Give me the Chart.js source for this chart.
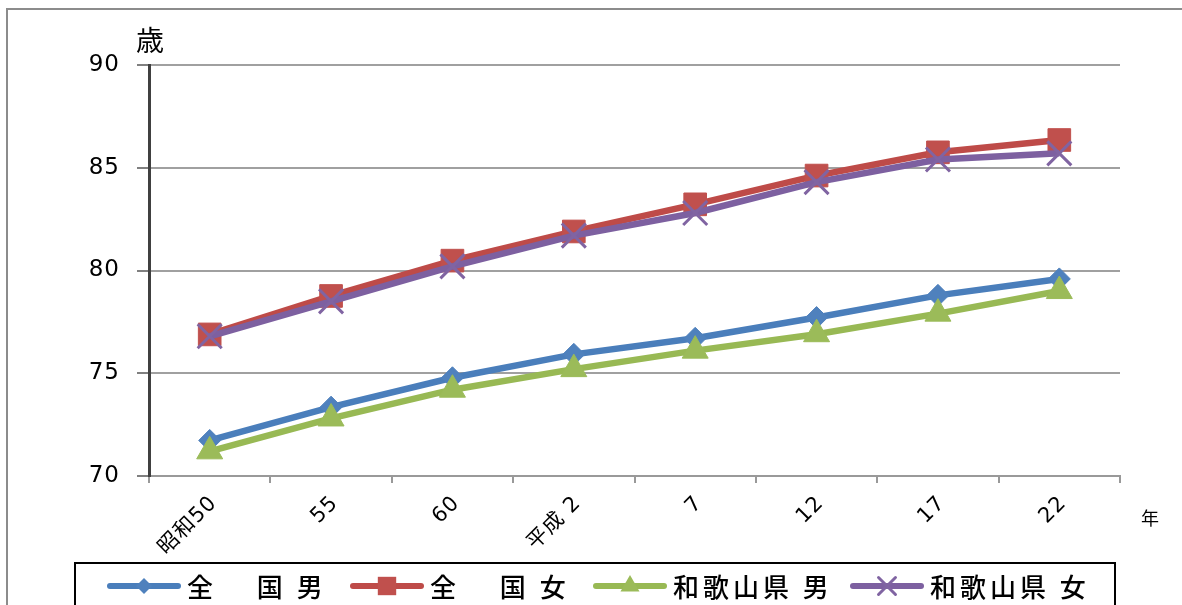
<!DOCTYPE html>
<html lang="ja">
<head>
  <meta charset="UTF-8" />
  <title>平均寿命の推移</title>
  <script src="https://cdn.jsdelivr.net/npm/chart.js"></script>
  <style>
    html, body { margin: 0; padding: 0; background: #fff; }
    #wrap { width: 1182px; height: 605px; position: relative; }
  </style>
</head>
<body>
  <div id="wrap"><canvas id="lifeChart" width="1182" height="605"></canvas></div>

  <script>
    // Data
    const categories = ["昭和50", "55", "60", "平成 2", "7", "12", "17", "22"];
    const seriesNames = ["全　 国 男", "全　 国 女", "和歌山県 男", "和歌山県 女"];
    const zenkokuMale = [71.73, 73.35, 74.78, 75.92, 76.70, 77.71, 78.79, 79.59];
    const zenkokuFemale = [76.89, 78.76, 80.48, 81.90, 83.22, 84.62, 85.75, 86.35];
    const wakayamaMale = [71.2, 72.8, 74.2, 75.2, 76.1, 76.9, 77.9, 79.0];
    const wakayamaFemale = [76.8, 78.5, 80.2, 81.7, 82.8, 84.3, 85.4, 85.7];
    const yTicks = [70, 75, 80, 85, 90];

    const CJK = "'Noto Sans CJK JP', sans-serif";
    const NUM = "'DejaVu Sans', 'Noto Sans CJK JP', sans-serif";

    // legend item x positions (line start)
    const legendX = [110, 353, 596, 853];
    const legendMarkerSize = [8, 13, 11, 12];

    function drawMarker(ctx, style, x, y, r, color) {
      ctx.save();
      ctx.fillStyle = color;
      ctx.strokeStyle = color;
      ctx.beginPath();
      if (style === "rectRot") {
        ctx.moveTo(x - r, y); ctx.lineTo(x, y - r); ctx.lineTo(x + r, y); ctx.lineTo(x, y + r);
        ctx.closePath(); ctx.fill();
      } else if (style === "rect") {
        const s = r * Math.SQRT1_2;
        ctx.rect(x - s, y - s, 2 * s, 2 * s); ctx.fill();
      } else if (style === "triangle") {
        ctx.moveTo(x, y - r);
        ctx.lineTo(x + r * Math.sin(2 * Math.PI / 3), y - r * Math.cos(2 * Math.PI / 3));
        ctx.lineTo(x + r * Math.sin(4 * Math.PI / 3), y - r * Math.cos(4 * Math.PI / 3));
        ctx.closePath(); ctx.fill();
      } else if (style === "crossRot") {
        const s = r * Math.SQRT1_2;
        ctx.lineWidth = 3;
        ctx.moveTo(x - s, y - s); ctx.lineTo(x + s, y + s);
        ctx.moveTo(x + s, y - s); ctx.lineTo(x - s, y + s);
        ctx.stroke();
      }
      ctx.restore();
    }

    // frame, axis titles and the boxed legend
    const extrasPlugin = {
      id: "extras",
      beforeUpdate(chart) {
        chart.ctx.letterSpacing = "1px";
      },
      beforeDraw(chart) {
        const ctx = chart.ctx;
        ctx.letterSpacing = "1px";
        ctx.save();
        ctx.fillStyle = "#fff";
        ctx.fillRect(0, 0, chart.width, chart.height);
        ctx.strokeStyle = "#8c8c8c";
        ctx.lineWidth = 2;
        ctx.strokeRect(7, 9, 1300, 800);
        ctx.restore();
      },
      afterDraw(chart) {
        const ctx = chart.ctx;
        ctx.save();
        ctx.letterSpacing = "0px";
        ctx.fillStyle = "#000";
        ctx.textBaseline = "middle";
        ctx.textAlign = "left";
        ctx.font = "28px " + CJK;
        ctx.fillText("歳", 136, 40);
        ctx.font = "18px " + CJK;
        ctx.fillText("年", 1141, 518);

        // legend box
        ctx.strokeStyle = "#000";
        ctx.lineWidth = 2;
        ctx.strokeRect(75, 563, 1040, 80);
        const ly = 586;
        chart.data.datasets.forEach((ds, i) => {
          const x0 = legendX[i];
          ctx.strokeStyle = ds.borderColor;
          ctx.lineWidth = 6;
          ctx.lineCap = "round";
          ctx.beginPath();
          ctx.moveTo(x0, ly);
          ctx.lineTo(x0 + 68, ly);
          ctx.stroke();
          drawMarker(ctx, ds.pointStyle, x0 + 34, ly, legendMarkerSize[i], ds.pointBackgroundColor);
          ctx.fillStyle = "#000";
          ctx.font = "500 26px " + CJK;
          ctx.letterSpacing = "4px";
          ctx.fillText(seriesNames[i], x0 + 77, ly + 1);
          ctx.letterSpacing = "0px";
        });
        ctx.restore();
      }
    };

    const ctx = document.getElementById("lifeChart").getContext("2d");

    new Chart(ctx, {
      type: "line",
      data: {
        labels: categories,
        datasets: [
          {
            label: seriesNames[0],
            data: zenkokuMale,
            borderColor: "#4a7ebb",
            pointBackgroundColor: "#4f81bd",
            pointBorderColor: "#4f81bd",
            pointStyle: "rectRot",
            pointRadius: 11,
            pointBorderWidth: 1,
            order: 4
          },
          {
            label: seriesNames[1],
            data: zenkokuFemale,
            borderColor: "#be4b48",
            pointBackgroundColor: "#c0504d",
            pointBorderColor: "#c0504d",
            pointStyle: "rect",
            pointRadius: 16,
            pointBorderWidth: 1,
            order: 3
          },
          {
            label: seriesNames[2],
            data: wakayamaMale,
            borderColor: "#98b954",
            pointBackgroundColor: "#9bbb59",
            pointBorderColor: "#9bbb59",
            pointStyle: "triangle",
            pointRadius: 15,
            pointBorderWidth: 1,
            order: 2
          },
          {
            label: seriesNames[3],
            data: wakayamaFemale,
            borderColor: "#7d60a0",
            pointBackgroundColor: "#8064a2",
            pointBorderColor: "#8064a2",
            pointStyle: "crossRot",
            pointRadius: 17,
            pointBorderWidth: 3,
            order: 1
          }
        ]
      },
      options: {
        responsive: false,
        animation: false,
        elements: {
          line: { borderWidth: 6.5, tension: 0 },
          point: { hoverRadius: 12 }
        },
        layout: {
          padding: { left: 0, top: 65, right: 62, bottom: 39 }
        },
        plugins: {
          legend: { display: false },
          tooltip: { enabled: false }
        },
        scales: {
          x: {
            offset: true,
            afterFit(scale) { scale.height = 90; },
            grid: {
              offset: true,
              drawOnChartArea: false,
              tickLength: 7,
              color: "#999",
              lineWidth: 2
            },
            border: { color: "#999", width: 2 },
            ticks: {
              color: "#000",
              font: { family: NUM, size: 21 },
              maxRotation: 45,
              minRotation: 45,
              autoSkip: false,
              padding: 8,
              labelOffset: 4
            }
          },
          y: {
            min: 70,
            max: 90,
            afterFit(scale) { scale.width = 149; },
            afterBuildTicks(scale) {
              scale.ticks = yTicks.map(v => ({ value: v }));
            },
            grid: {
              color: "#a0a0a0",
              lineWidth: 2,
              tickLength: 12,
              tickColor: "#808080"
            },
            border: { color: "#404040", width: 3 },
            ticks: {
              color: "#000",
              font: { family: NUM, size: 23 },
              padding: 17
            }
          }
        }
      },
      plugins: [extrasPlugin]
    });
  </script>
</body>
</html>
